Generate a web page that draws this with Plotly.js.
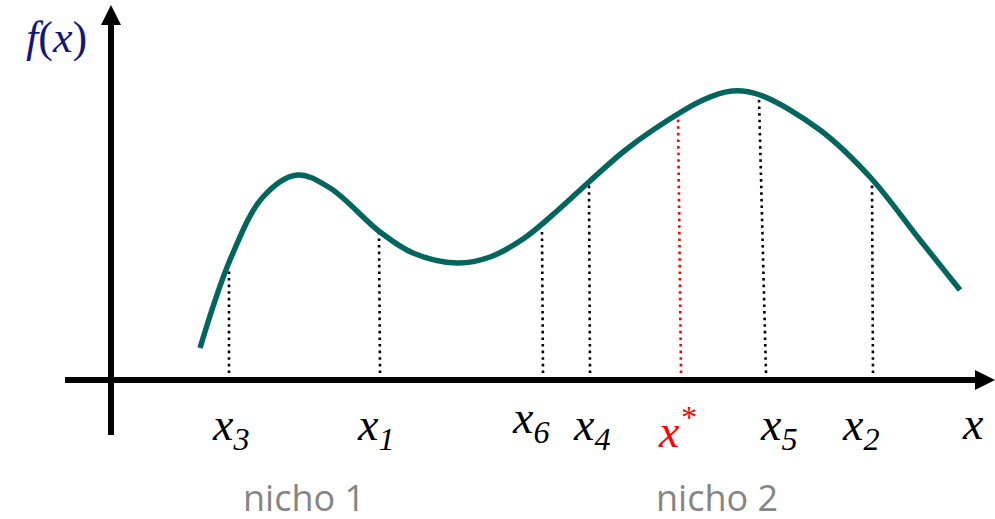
<!DOCTYPE html>
<html>
<head>
<meta charset="utf-8">
<script src="https://cdn.plot.ly/plotly-3.0.1.min.js"></script>
<style>
  html, body { margin: 0; padding: 0; background: #ffffff; overflow: hidden; }
  #wrap { position: relative; width: 995px; height: 519px; }
  #chart { width: 995px; height: 519px; }
  #axisname { position: absolute; left: 963px; top: 401px; margin: 0;
              font: italic 46px/46px 'Liberation Serif', 'Times New Roman', serif; color: #000000; }
</style>
</head>
<body>
<div id="wrap">
  <div id="chart"></div>
  <div id="axisname">x</div>
</div>
<script>
// Fitness landscape f(x): two niches, six samples and the global optimum x*.
const curveX = [0.89, 1.19, 1.52, 1.86, 2.19, 2.69, 3.02, 3.46, 3.79, 4.12, 4.46, 4.79, 5.12, 5.42,
                5.92, 6.21, 6.49, 7.09, 7.59, 8.09, 8.49];
const curveY = [0.32, 1.20, 1.83, 2.05, 1.92, 1.48, 1.27, 1.17, 1.23, 1.41, 1.69, 1.99, 2.28, 2.50,
                2.80, 2.89, 2.85, 2.50, 2.03, 1.40, 0.90];

// Samples: label, x where the drop line meets the curve, x at the axis, height of the drop line
const sampleLabels = ['x<sub>3</sub>', 'x<sub>1</sub>', 'x<sub>6</sub>', 'x<sub>4</sub>', 'x<sup>*</sup>', 'x<sub>5</sub>', 'x<sub>2</sub>'];
const sampleTopX   = [1.18, 2.68, 4.31, 4.78, 5.67, 6.48, 7.61];
const sampleBaseX  = [1.18, 2.69, 4.32, 4.79, 5.70, 6.55, 7.62];
const sampleTopY   = [1.12, 1.48, 1.48, 1.95, 2.65, 2.81, 1.98];
const optimumIndex = 4;

const nicheLabels  = ['nicho 1', 'nicho 2'];
const nicheCenters = [1.93, 6.06];

// ---- layout helpers (pixel scale: 100 px per unit) ----
const PX = 100;
const X0 = 111, Y0 = 380;           // pixel position of the origin
const W = 995, H = 519;
const xRange = [-X0 / PX, (W - X0) / PX];
const yRange = [(Y0 - H) / PX, Y0 / PX];
const dropFoot = 0.07;

const teal = '#03665e';
const navy = '#15157a';
const SERIF = 'Liberation Serif';

function dropTrace(indices, color) {
  const xs = [], ys = [];
  indices.forEach(i => {
    xs.push(sampleBaseX[i], sampleTopX[i], null);
    ys.push(dropFoot, sampleTopY[i], null);
  });
  return {
    x: xs, y: ys, type: 'scatter', mode: 'lines', hoverinfo: 'skip',
    line: { color: color, width: 2.6, dash: '2.6px,4px' }
  };
}

const allIdx = sampleLabels.map((_, i) => i);
const traces = [
  dropTrace(allIdx.filter(i => i !== optimumIndex), '#000000'),
  dropTrace([optimumIndex], '#ff0000'),
  {
    x: curveX, y: curveY, type: 'scatter', mode: 'lines', hoverinfo: 'skip',
    line: { color: teal, width: 5.5, shape: 'spline', smoothing: 1 }
  }
];

// label nudges relative to the drop-line foot (units), and vertical centres
const labelShift = [0.02, -0.04, -0.12, 0.02, -0.04, 0.13, -0.12];
const labelYc    = [-0.48, -0.48, -0.41, -0.48, -0.48, -0.48, -0.48];

const annotations = sampleLabels.map((t, i) => ({
  x: sampleBaseX[i] + labelShift[i], y: labelYc[i], xref: 'x', yref: 'y',
  text: '<i>' + t + '</i>', showarrow: false, xanchor: 'center', yanchor: 'middle',
  font: { family: SERIF, size: 46,
          color: i === optimumIndex ? '#ff0000' : '#000000' }
}));

annotations.push({
  x: -0.55, y: 3.43, xref: 'x', yref: 'y', text: '<i>f</i>(<i>x</i>)', showarrow: false,
  xanchor: 'center', yanchor: 'middle',
  font: { family: SERIF, size: 44, color: navy }
});
const serifCount = annotations.length;

nicheLabels.forEach((t, i) => annotations.push({
  x: nicheCenters[i], y: -1.17, xref: 'x', yref: 'y', text: t, showarrow: false,
  xanchor: 'center', yanchor: 'middle',
  font: { family: 'Open Sans', size: 36, color: '#858585' }
}));

// axes drawn as thick arrows
const shapes = [
  { type: 'line', xref: 'x', yref: 'y', x0: -0.46, x1: 8.66, y0: 0, y1: 0,
    line: { color: '#000000', width: 6 } },
  { type: 'path', xref: 'x', yref: 'y',
    path: 'M 8.64 0.10 L 8.84 0 L 8.64 -0.10 Z', fillcolor: '#000000',
    line: { color: '#000000', width: 0 } },
  { type: 'line', xref: 'x', yref: 'y', x0: 0, x1: 0, y0: -0.55, y1: 3.57,
    line: { color: '#000000', width: 6 } },
  { type: 'path', xref: 'x', yref: 'y',
    path: 'M -0.10 3.55 L 0 3.75 L 0.10 3.55 Z', fillcolor: '#000000',
    line: { color: '#000000', width: 0 } }
];

const layout = {
  width: W, height: H,
  margin: { l: 0, r: 0, t: 0, b: 0, pad: 0 },
  paper_bgcolor: 'rgba(0,0,0,0)', plot_bgcolor: 'rgba(0,0,0,0)',
  showlegend: false,
  xaxis: { range: xRange, visible: false },
  yaxis: { range: yRange, visible: false },
  shapes: shapes,
  annotations: annotations
};

Plotly.newPlot('chart', traces, layout, { displayModeBar: false }).then(gd => {
  // pin the math labels to the serif face on the rendered text nodes
  gd.querySelectorAll('g.annotation').forEach(g => {
    const idx = +g.getAttribute('data-index');
    if (idx < serifCount) {
      g.querySelectorAll('text, tspan').forEach(el => {
        el.style.fontFamily = '"Liberation Serif", "Times New Roman", serif';
      });
    }
  });
});
</script>
</body>
</html>
